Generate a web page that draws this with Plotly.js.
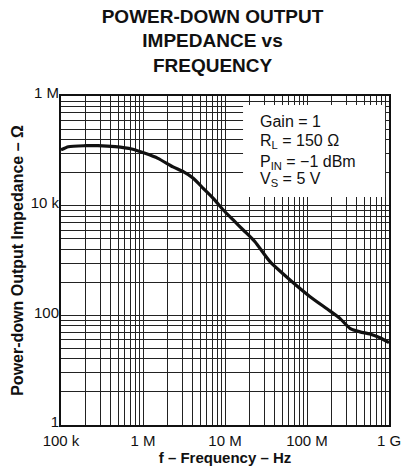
<!DOCTYPE html>
<html>
<head>
<meta charset="utf-8">
<script src="https://cdn.plot.ly/plotly-3.0.1.min.js"></script>
<style>html,body{margin:0;padding:0;background:#fff;}#chart{width:401px;height:474px;}</style>
</head>
<body>
<div id="chart"></div>
<script>
// Data
const frequencyHz = [1e5, 1.23e5, 1.96e5, 2.82e5, 4.56e5, 7.28e5, 1.06e6, 1.52e6, 2.32e6, 3.1e6, 4.1e6, 5.43e6, 7.19e6, 9.53e6, 1.26e7, 1.67e7, 2.32e7, 3.54e7, 6.21e7, 1.09e8, 1.88e8, 2.52e8, 3.34e8, 4.43e8, 5.86e8, 7.76e8, 1e9];
const impedanceOhm = [1.04e5, 1.19e5, 1.24e5, 1.24e5, 1.19e5, 1.08e5, 9.0e4, 7.3e4, 5.1e4, 4.17e4, 3.16e4, 2.07e4, 1.36e4, 8.34e3, 5.48e3, 3.6e3, 2.2e3, 951, 441, 219, 122, 88, 58, 50, 45.7, 39.1, 31.7];

// Axis ticks
const xDecades = [1e5, 1e6, 1e7, 1e8, 1e9];
const xTickLabels = ['100 k', '1 M', '10 M', '100 M', '1 G'];
const xMinorFactors = [2, 3, 4, 5, 6, 7, 8, 9];
const yMajors = [1, 100, 1e4, 1e6];
const yTickLabels = ['1', '100', '10 k', '1 M'];
const yMinorFactors = [4, 9, 16, 25, 36, 49, 64, 81];

const conditions = ['Gain = 1', 'R<sub>L</sub> = 150 Ω', 'P<sub>IN</sub> = −1 dBm', 'V<sub>S</sub> = 5 V'];

function buildTicks(majors, labels, minors) {
  const vals = [], text = [];
  majors.forEach((m, i) => {
    vals.push(m); text.push(labels[i]);
    if (i < majors.length - 1) minors.forEach(f => { vals.push(m * f); text.push(''); });
  });
  return {vals, text};
}
const xt = buildTicks(xDecades, xTickLabels, xMinorFactors);
const yt = buildTicks(yMajors, yTickLabels, yMinorFactors);

const FONT = 'Liberation Sans, Arial, Helvetica, sans-serif';

const trace = {
  x: frequencyHz, y: impedanceOhm, type: 'scatter', mode: 'lines',
  line: {color: '#111', width: 3.2, shape: 'spline', smoothing: 0.6},
  hoverinfo: 'skip', showlegend: false
};

const textY = [0.921, 0.863, 0.799, 0.745];
const annotations = conditions.map((t, i) => ({
  xref: 'paper', yref: 'paper', x: 0.60, y: textY[i], xanchor: 'left', yanchor: 'middle',
  text: t, showarrow: false, font: {family: FONT, size: 16, color: '#111'}
}));

const axisCommon = {
  type: 'log', showline: true, mirror: true, linecolor: '#111', linewidth: 2,
  showgrid: true, gridcolor: '#222', gridwidth: 1, zeroline: false,
  ticks: 'outside', ticklen: 0, tickmode: 'array', ticklabeloverflow: 'allow',
  tickfont: {family: FONT, size: 15, color: '#111'}, fixedrange: true
};

const layout = {
  width: 401, height: 474,
  margin: {l: 61, r: 12, t: 96, b: 49},
  paper_bgcolor: '#fff', plot_bgcolor: '#fff',
  title: {
    text: '<b>POWER-DOWN OUTPUT<br>IMPEDANCE vs<br>FREQUENCY</b>',
    font: {family: FONT, size: 19, color: '#111'},
    x: 0.53, xanchor: 'center', y: 0.952, yanchor: 'middle', yref: 'container'
  },
  xaxis: Object.assign({}, axisCommon, {
    range: [5, 9], tickvals: xt.vals, ticktext: xt.text, ticklabelstandoff: 1,
    title: {text: '<b>f – Frequency – Hz</b>', font: {family: FONT, size: 15, color: '#111'}, standoff: 1}
  }),
  yaxis: Object.assign({}, axisCommon, {
    range: [0, 6], tickvals: yt.vals, ticktext: yt.text, ticklabelstandoff: -3, ticklabelshift: -3,
    title: {text: '<b>Power-down Output Impedance – Ω</b>', font: {family: FONT, size: 16, color: '#111'}, standoff: 3}
  }),
  shapes: [{
    type: 'rect', xref: 'paper', yref: 'paper', x0: 0.555, x1: 0.988, y0: 0.693, y1: 0.973,
    fillcolor: '#fff', line: {width: 0}, layer: 'above'
  }],
  annotations: annotations,
  showlegend: false
};

Plotly.newPlot('chart', [trace], layout, {staticPlot: true, displayModeBar: false});
</script>
</body>
</html>
